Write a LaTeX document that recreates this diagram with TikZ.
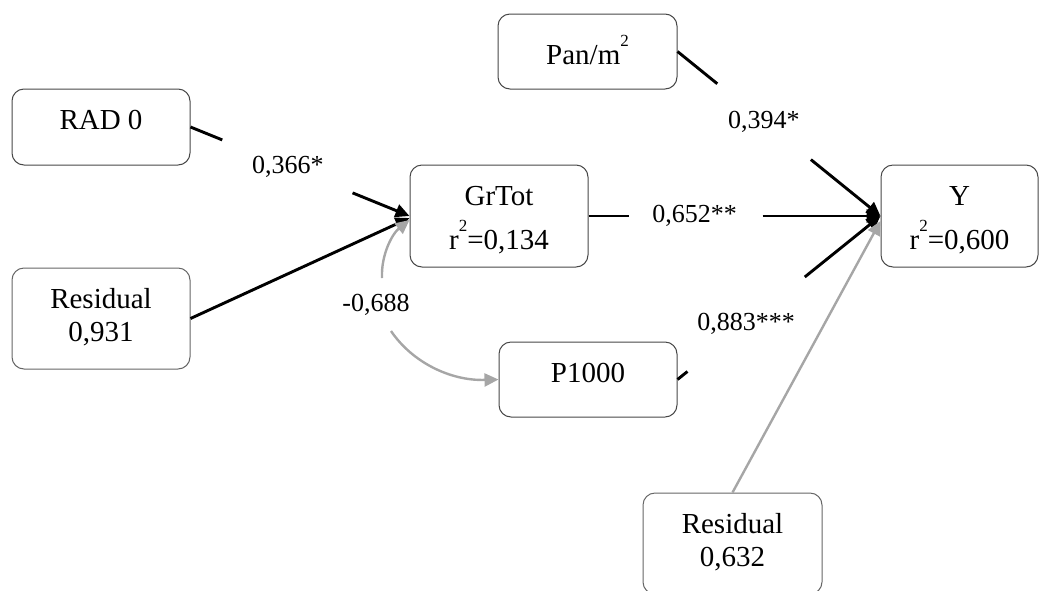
\documentclass[tikz,border=0pt]{standalone}
\usepackage{fontspec}
\setmainfont{Liberation Serif}
\usetikzlibrary{arrows.meta,calc}

% box content: width, height, offset of the first baseline from the top, text
\newcommand{\boxtext}[4]{\parbox[c][#2][t]{#1}{\centering\rule{0pt}{#3}#4}}
% raised superscript two
\newcommand{\sqtwo}{\raisebox{18pt}{\fontsize{17}{17}\selectfont 2}}

\begin{document}
\begin{tikzpicture}[x=1pt,y=-1pt,
  box/.style={draw=black!72,line width=1pt,rounded corners=12pt,inner sep=0pt,
              font=\fontsize{29}{33}\selectfont},
  coef/.style={font=\fontsize{26}{30}\selectfont,inner sep=0pt},
  link/.style={line width=2.9pt},
  tip/.style={-{Triangle[length=14pt,width=13pt]}},
  grey/.style={draw=black!35,line width=2.4pt}]

\useasboundingbox (0,0) rectangle (1047,590);

% variables
\node[box] (rad)   at (101,127)   {\boxtext{178pt}{76pt}{40.5pt}{RAD 0}};
\node[box,draw=black!60] (res1) at (101,318.5) {\boxtext{178pt}{101pt}{40.5pt}{Residual\\0,931}};
\node[box] (grtot) at (499,216)   {\boxtext{178pt}{102pt}{40.5pt}{GrTot\\[11pt]r\sqtwo=0,134}};
\node[box] (pan)   at (587.5,51.5){\boxtext{179pt}{75pt}{50pt}{Pan/m\sqtwo}};
\node[box] (y)     at (959.5,216) {\boxtext{157pt}{102pt}{40.5pt}{Y\\[11pt]r\sqtwo=0,600}};
\node[box] (p1000) at (588,379.5) {\boxtext{178pt}{75pt}{40.5pt}{P1000}};
\node[box,draw=black!60] (res2) at (732.5,543.5) {\boxtext{179pt}{101pt}{40.5pt}{Residual\\0,632}};

% RAD 0 -> GrTot
\draw[link] (rad.east) -- ($(rad.east)!0.145!(grtot.west)$);
\draw[link,tip] ($(rad.east)!0.74!(grtot.west)$) -- (grtot.west);
\node[coef] (c1) at ($(rad.east)!0.445!(grtot.west)$) {0,366*};

% Residual -> GrTot
\draw[link,tip] (res1.east) -- ([yshift=-2pt]grtot.west);

% GrTot -> Y
\draw[link] (grtot.east) -- ($(grtot.east)!0.137!(y.west)$);
\draw[link,tip] ($(grtot.east)!0.596!(y.west)$) -- (y.west);
\node[coef] (c2) at ($(grtot.east)!0.363!(y.west)$) {0,652**};

% Pan/m2 -> Y
\draw[link] (pan.east) -- ($(pan.east)!0.196!(y.west)$);
\draw[link,tip] ($(pan.east)!0.657!(y.west)$) -- (y.west);
\node[coef] (c3) at ($(pan.east)!0.426!(y.west)$) {0,394*};

% P1000 -> Y
\draw[link] (p1000.east) -- ($(p1000.east)!0.049!(y.west)$);
\draw[link,tip] ($(p1000.east)!0.627!(y.west)$) -- (y.west);
\node[coef] (c4) at ($(p1000.east)!0.338!(y.west)$) {0,883***};

% Residual -> Y
\draw[grey,tip] (res2.north) -- ([yshift=-5pt]y.west);

% correlation GrTot <-> P1000
\node[coef] (c5) at (376,305) {-0,688};
\coordinate (cu) at (382,278);
\coordinate (cl) at (391,331);
\draw[grey,tip] (cu) .. controls (381,255) and (392,234) .. ([yshift=-4pt]grtot.west);
\draw[grey,tip] (cl) .. controls (412,362) and (450,381) .. (p1000.west);
\end{tikzpicture}
\end{document}
